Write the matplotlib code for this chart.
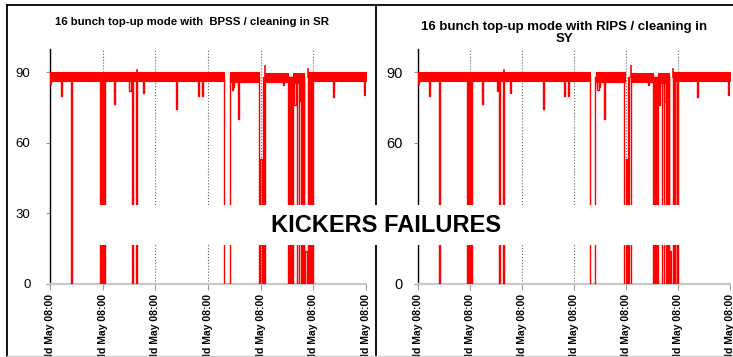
import matplotlib
matplotlib.use('Agg')
import matplotlib.pyplot as plt
from matplotlib.lines import Line2D
from matplotlib.patches import Rectangle

plt.rcParams['font.family'] = ['Liberation Sans', 'DejaVu Sans']

# time axis in days from the first tick
tick_pos = [0, 1, 2, 3, 4, 5, 6]
tick_labels = ['ld May 08:00'] * 7
y_ticks = [0, 30, 60, 90]

# stable beam current band (mA)
band_start = [0.00, 3.42, 4.09, 4.62, 4.90]
band_end = [3.30, 3.97, 4.52, 4.83, 6.00]
band_low = [86.3, 85.8, 86.0, 85.6, 86.3]
band_high = [90.2, 90.0, 89.9, 89.7, 90.0]

# short drops of the current
dip_t = [0.01, 0.22, 0.41, 0.955, 0.975, 1.01, 1.03, 1.23, 1.52, 1.565, 1.645,
         1.77, 2.405, 2.815, 2.89, 3.46, 3.49, 3.58, 4.43, 4.525, 4.545, 4.585,
         4.605, 4.65, 4.71, 4.75, 4.78, 4.81, 4.93, 4.96, 4.99, 5.38, 5.97]
dip_v = [85.0, 80.2, 0, 0, 0, 0, 0, 76.7, 82.0, 0, 0,
         81.2, 74.6, 80.0, 80.0, 82.4, 84.0, 70.4, 84.5, 0, 0, 0,
         0, 76.0, 0, 78.0, 0, 0, 0, 0, 0, 79.5, 80.5]

# beam lost for a while
gap_start = [3.30, 3.965, 4.83]
gap_end = [3.41, 4.09, 4.895]

# partial refills inside the gaps
rise_t = [4.005, 4.05, 4.86]
rise_v = [53.0, 88.0, 14.0]

# injection overshoots
spike_t = [1.65, 4.085, 4.905]
spike_v = [91.0, 92.8, 91.6]

titles = ['16 bunch top-up mode with  BPSS / cleaning in SR',
          '16 bunch top-up mode with RIPS / cleaning in\nSY']

RED = '#ff0000'
w = 0.012


def draw_current(ax):
    for s, e, lo, hi in zip(band_start, band_end, band_low, band_high):
        ax.fill_between([s, e], [lo, lo], [hi, hi], color=RED, lw=0.8, zorder=3)
    for t, v in zip(dip_t, dip_v):
        ax.plot([t - w, t - w, t + w, t + w], [88, v, v, 88], color=RED, lw=1.0, zorder=3)
    for s, e in zip(gap_start, gap_end):
        ax.plot([s, s, e, e], [88, 0, 0, 88], color=RED, lw=1.0, zorder=3)
    for t, v in zip(rise_t, rise_v):
        ax.plot([t - w, t - w, t + w, t + w], [0, v, v, 0], color=RED, lw=1.0, zorder=3)
    for t, v in zip(spike_t, spike_v):
        ax.plot([t, t], [88, v], color=RED, lw=1.2, zorder=3)


fig = plt.figure(figsize=(7.33, 3.57), dpi=100)
ax1 = fig.add_axes([0.0682, 0.2045, 0.4311, 0.6583])
ax2 = fig.add_axes([0.5707, 0.2045, 0.4252, 0.6583])

for ax, ypad, yfs in [(ax1, 11, 9.5), (ax2, 8.5, 10.5)]:
    draw_current(ax)
    ax.set_xlim(0, 6)
    ax.set_ylim(0, 100)
    ax.set_yticks(y_ticks)
    ax.set_xticks(tick_pos)
    ax.set_xticklabels(tick_labels, rotation=90, fontsize=7.5, fontweight='bold', va='top')
    ax.grid(axis='x', linestyle=':', color='#666666', lw=0.8, zorder=0)
    ax.set_axisbelow(True)
    for side in ['top', 'right']:
        ax.spines[side].set_visible(False)
    ax.spines['left'].set_color('black')
    ax.spines['left'].set_linewidth(1.0)
    ax.spines['bottom'].set_color('#c8c8c8')
    ax.spines['bottom'].set_linewidth(1.6)
    ax.tick_params(axis='y', length=3, color='#999999', pad=ypad, labelsize=yfs)
    ax.tick_params(axis='x', length=4, color='#999999', pad=3)

fig.text(192 / 733, 1 - 22 / 357, titles[0], fontsize=8.2, fontweight='bold',
         ha='center', va='center')
fig.text(564 / 733, 1 - 33 / 357, titles[1], fontsize=9.5, fontweight='bold',
         ha='center', va='center', linespacing=1.05)

# frame around the two panels
fig.add_artist(Line2D([7 / 733, 1], [1 - 5 / 357] * 2, color='black', lw=1.3))
fig.add_artist(Line2D([7 / 733] * 2, [0, 1 - 5 / 357], color='black', lw=1.3))
fig.add_artist(Line2D([376 / 733] * 2, [0, 1 - 5 / 357], color='black', lw=1.3))
fig.add_artist(Line2D([7 / 733, 1], [1.5 / 357] * 2, color='#d0d0d0', lw=1.0))

# banner across both panels
fig.add_artist(Rectangle((74 / 733, 112 / 357), 659 / 733, 40 / 357,
                         transform=fig.transFigure, facecolor='white',
                         edgecolor='none', zorder=10))
fig.text(386 / 733, 1 - 225 / 357, 'KICKERS FAILURES', fontsize=17,
         fontweight='bold', ha='center', va='center', zorder=11)

fig.savefig('out.png', dpi=100)
